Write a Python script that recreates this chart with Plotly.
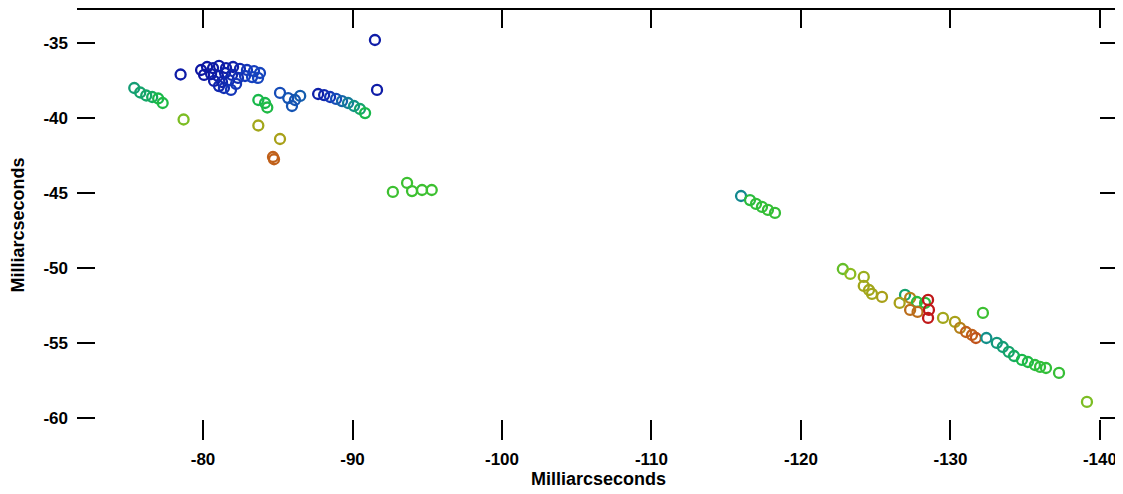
import plotly.graph_objects as go

# Maser spot positions (RA offset, Dec offset in milliarcseconds) and normalised velocity (0=blue .. 1=red)
ra_mas = [
    -75.4, -75.8, -76.2, -76.6, -77.0, -77.3,
    -78.5, -78.7,
    -79.87, -80.27, -80.67, -81.07, -81.54, -82.01, -82.47, -82.94, -83.41, -83.81,
    -80.07, -80.54, -81.0, -81.47, -81.94, -82.34, -82.81, -83.28, -83.68,
    -80.74, -81.27, -81.74, -82.21, -81.4, -81.87, -81.07,
    -84.15, -83.7, -84.3,
    -85.15, -85.7, -86.15, -86.5, -85.95,
    -83.7, -85.15, -84.68, -84.75,
    -87.7, -88.1, -88.5, -88.9, -89.3, -89.7, -90.1, -90.5, -90.84,
    -91.64, -91.5,
    -92.7, -93.65, -93.98, -94.65, -95.3,
    -115.99, -116.59, -116.99, -117.39, -117.79, -118.26,
    -122.8, -123.3, -124.2, -124.2, -124.55, -124.75, -125.42,
    -126.96, -127.3, -127.76, -128.3, -127.3, -127.8, -126.6,
    -128.5, -128.56, -128.5,
    -129.5, -130.3, -130.64, -131.04, -131.44, -131.7,
    -132.17, -132.4,
    -133.1, -133.5, -133.9, -134.25,
    -134.78, -135.18, -135.65, -135.99, -136.39,
    -137.26, -139.13,
]
dec_mas = [
    -38.0, -38.3, -38.5, -38.6, -38.7, -39.0,
    -37.1, -40.1,
    -36.8, -36.6, -36.67, -36.53, -36.67, -36.6, -36.73, -36.8, -36.87, -37.0,
    -37.13, -37.07, -37.2, -37.0, -37.13, -37.33, -37.2, -37.27, -37.33,
    -37.53, -37.6, -37.47, -37.73, -38.0, -38.13, -37.87,
    -39.0, -38.8, -39.3,
    -38.33, -38.67, -38.8, -38.53, -39.2,
    -40.5, -41.4, -42.6, -42.75,
    -38.4, -38.47, -38.6, -38.73, -38.87, -39.0, -39.2, -39.4, -39.67,
    -38.13, -34.8,
    -44.93, -44.33, -44.87, -44.8, -44.8,
    -45.2, -45.47, -45.73, -45.93, -46.13, -46.33,
    -50.07, -50.4, -50.6, -51.2, -51.47, -51.73, -51.93,
    -51.8, -52.0, -52.27, -52.33, -52.8, -52.93, -52.33,
    -52.13, -52.8, -53.33,
    -53.33, -53.6, -54.0, -54.27, -54.47, -54.67,
    -53.0, -54.67,
    -55.0, -55.27, -55.6, -55.87,
    -56.13, -56.27, -56.47, -56.6, -56.67,
    -57.0, -58.93,
]
velocity = [
    0.40, 0.42, 0.43, 0.45, 0.50, 0.52,
    0.05, 0.68,
    0.03, 0.03, 0.04, 0.04, 0.05, 0.06, 0.08, 0.12, 0.14, 0.16,
    0.03, 0.04, 0.05, 0.06, 0.08, 0.10, 0.13, 0.15, 0.16,
    0.05, 0.07, 0.09, 0.12, 0.10, 0.12, 0.08,
    0.50, 0.50, 0.52,
    0.18, 0.20, 0.20, 0.22, 0.20,
    0.78, 0.80, 0.90, 0.90,
    0.06, 0.08, 0.12, 0.18, 0.24, 0.30, 0.36, 0.42, 0.50,
    0.05, 0.05,
    0.60, 0.60, 0.60, 0.60, 0.60,
    0.33, 0.55, 0.57, 0.57, 0.58, 0.58,
    0.65, 0.70, 0.75, 0.78, 0.78, 0.78, 0.80,
    0.42, 0.85, 0.55, 0.55, 0.88, 0.88, 0.80,
    1.0, 1.0, 1.0,
    0.78, 0.80, 0.85, 0.90, 0.90, 0.92,
    0.60, 0.35,
    0.38, 0.40, 0.42, 0.45,
    0.50, 0.52, 0.55, 0.57, 0.57,
    0.58, 0.68,
]

x_ticks = [-80, -90, -100, -110, -120, -130, -140]
x_tick_labels = ["-80", "-90", "-100", "-110", "-120", "-130", "-140"]
y_ticks = [-35, -40, -45, -50, -55, -60]
y_tick_labels = ["-35", "-40", "-45", "-50", "-55", "-60"]
axis_title = "Milliarcseconds"

colorscale = [
    [0.0, "#0a0a9a"], [0.15, "#1540c0"], [0.35, "#12908a"], [0.5, "#18b84a"],
    [0.6, "#3cc030"], [0.7, "#8cbc20"], [0.8, "#a8a018"], [0.9, "#c0601a"],
    [1.0, "#c01818"],
]

fig = go.Figure()
fig.add_trace(go.Scatter(
    x=ra_mas, y=dec_mas, mode="markers",
    marker=dict(symbol="circle-open", size=10, color=velocity, colorscale=colorscale,
                cmin=0, cmax=1, line=dict(width=2.3)),
    hoverinfo="x+y", showlegend=False,
))
# helper trace so the frame axes (top and right) are drawn
fig.add_trace(go.Scatter(x=[None], y=[None], xaxis="x2", yaxis="y2", showlegend=False))

xr = [-71.57, -141.34]
yr = [-61.47, -32.8]
fam = "Liberation Sans, Arial, sans-serif"
tickf = dict(family=fam, size=17, color="black", weight="bold")

# page body has an 8px margin, so the figure is sized to fill the rest of the window
fig.update_layout(
    width=1115, height=486,
    margin=dict(l=69, r=3, t=2, b=54, autoexpand=False),
    paper_bgcolor="white", plot_bgcolor="white",
    xaxis=dict(range=xr, tickvals=x_ticks, ticktext=x_tick_labels, ticks="inside",
               ticklen=20, tickwidth=1.5, tickcolor="black", showline=False, showgrid=False,
               zeroline=False, tickfont=tickf, ticklabelstandoff=7, automargin=False,
               title=dict(text=axis_title, font=dict(family=fam, size=18, color="black",
                                                    weight="bold"), standoff=0)),
    yaxis=dict(range=yr, tickvals=y_ticks, ticktext=y_tick_labels, ticks="inside",
               ticklen=18, tickwidth=1.5, tickcolor="black", showline=False, showgrid=False,
               zeroline=False, tickfont=tickf, ticklabelstandoff=8, automargin=False,
               title=dict(text=axis_title, font=dict(family=fam, size=18, color="black",
                                                    weight="bold"), standoff=14)),
    xaxis2=dict(range=xr, overlaying="x", side="top", tickvals=x_ticks, ticks="inside",
                ticklen=18, tickwidth=1.5, tickcolor="black", showline=True, linecolor="black",
                linewidth=2, showticklabels=False, showgrid=False, zeroline=False,
                automargin=False),
    yaxis2=dict(range=yr, overlaying="y", side="right", tickvals=y_ticks, ticks="inside",
                ticklen=20, tickwidth=1.5, tickcolor="black", showline=True, linecolor="black",
                linewidth=2, showticklabels=False, showgrid=False, zeroline=False,
                automargin=False),
)

fig.write_html("out.html")
